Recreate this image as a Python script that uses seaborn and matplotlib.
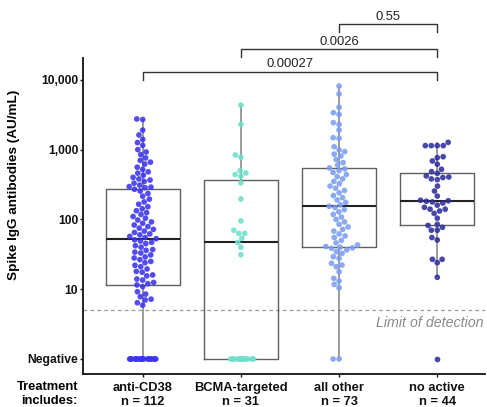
import numpy as np
import pandas as pd
import matplotlib
matplotlib.use("Agg")
import matplotlib.pyplot as plt
import seaborn as sns

# ---------------- data ----------------
categories = ["anti-CD38", "BCMA-targeted", "all other", "no active"]
colors = ["#3c33f2", "#6ee0cc", "#7c9ef0", "#2f2f9c"]

anti_cd38 = ([1] * 20 +
             [5.9, 6.4, 7.0, 7.2, 7.8, 8.5, 9.2, 10.9, 11.5,
              12, 12.5, 13.5, 14, 15.5, 16, 17.5, 18, 19.5, 21, 22, 24, 25, 26.5,
              28, 29, 31, 33, 34, 36, 37, 40, 42, 45, 47, 49, 51,
              53,
              55, 57, 60, 62, 65, 68, 72, 75, 79, 83, 88, 92, 98, 104, 110, 118,
              125, 133, 142, 152, 165, 178, 195, 215, 235, 255,
              270, 285,
              290, 295, 310, 330, 350, 366, 380, 400, 430, 460, 480, 520, 560, 620,
              660, 700, 760, 850, 925, 1000, 1150, 1260, 1400, 1620, 1900, 2700, 2750])

bcma = ([1] * 13 +
        [31.2, 39.8, 46.7, 53.6, 63, 63, 70, 95, 196, 335, 415, 440, 462, 500,
         776, 837, 2300, 4330])

all_other = ([1] * 2 +
             [10.5, 11.7, 13.1, 14.3, 17.8, 21, 22.2, 23.5, 27.7, 29.2, 32.6, 34.5,
              36.5, 38.5, 39, 40, 40.9,
              43, 46, 50, 55, 58, 62, 68, 72, 78, 85, 92, 100, 108, 118, 128, 138,
              148, 154,
              162, 175, 190, 205, 220, 240, 260, 280, 300, 325, 350, 380, 410, 440,
              470, 500, 530, 547,
              600, 650, 720, 810, 860, 935, 990, 1100, 1450, 1480, 1900, 2300, 2430,
              3200, 3380, 4040, 6270, 8150])

no_active = [1, 14.8, 24, 26.8, 26.8, 50.7, 55, 70, 70, 77, 82, 85, 104, 122, 132,
             140, 140, 149, 160, 172, 178, 182, 185, 188, 216, 255, 300, 372, 380,
             398, 405, 420, 457, 483, 522, 617, 687, 766, 790, 1140, 1140, 1140,
             1140, 1270]

group_values = [anti_cd38, bcma, all_other, no_active]

ytick_values = [1, 10, 100, 1000, 10000]
ytick_labels = ["Negative", "10", "100", "1,000", "10,000"]
limit_of_detection = 5

comparisons = [(0, 3), (1, 3), (2, 3)]
p_labels = ["0.00027", "0.0026", "0.55"]
bracket_top = [13060, 27350, 63000]
bracket_drop = [9930, 21000, 48000]

# ---------------- frame ----------------
df = pd.concat([pd.DataFrame({"group": c, "value": v})
                for c, v in zip(categories, group_values)], ignore_index=True)
palette = dict(zip(categories, colors))
pos = df[df["value"] > 1]
neg = df[df["value"] <= 1]
neg_counts = neg["group"].value_counts()
big_neg_groups = [c for c in categories if neg_counts.get(c, 0) > 3]
neg_big = neg[neg["group"].isin(big_neg_groups)]
neg_small = neg[~neg["group"].isin(big_neg_groups)]

# ---------------- figure ----------------
plt.rcParams["font.family"] = ["Liberation Sans", "DejaVu Sans"]
fig = plt.figure(figsize=(4.87, 4.07), dpi=100)
ax = fig.add_axes([83 / 487, 1 - 374 / 407, 402 / 487, 374 / 407])

sns.boxplot(data=df, x="group", y="value", order=categories, ax=ax,
            log_scale=True, fill=False, color="#606060", width=0.75,
            showcaps=False, showfliers=False, linewidth=1.0,
            medianprops=dict(color="#222222", linewidth=1.5),
            whiskerprops=dict(color="#8a8a8a", linewidth=1.2))

dot_size = 4.1
sns.swarmplot(data=pos, x="group", y="value", order=categories, hue="group",
              hue_order=categories, palette=palette, size=dot_size, alpha=0.88,
              linewidth=0, legend=False, ax=ax, log_scale=True, zorder=3)

np.random.seed(7)
sns.stripplot(data=neg_big, x="group", y="value", order=categories, hue="group",
              hue_order=categories, palette=palette, size=dot_size, alpha=0.88,
              jitter=0.14, linewidth=0, legend=False, ax=ax, log_scale=True,
              zorder=3)
sns.swarmplot(data=neg_small, x="group", y="value", order=categories, hue="group",
              hue_order=categories, palette=palette, size=dot_size, alpha=0.88,
              linewidth=0, legend=False, ax=ax, log_scale=True, zorder=3)

# limits & axes
ax.set_xlim(-0.608, 3.486)
ylo = 10 ** (-15 / 69.8)
yhi = 10 ** (359 / 69.8)
ax.set_ylim(ylo, yhi)
ax.spines["top"].set_visible(False)
ax.spines["right"].set_visible(False)
ax.spines["left"].set_bounds(ylo, 20500)
for s in ("left", "bottom"):
    ax.spines[s].set_linewidth(1.3)
    ax.spines[s].set_color("#111111")

ax.set_yticks(ytick_values)
ax.set_yticklabels(ytick_labels, fontsize=8.7, fontweight="bold")
ax.yaxis.set_minor_locator(matplotlib.ticker.NullLocator())
ax.tick_params(axis="y", length=2.5, width=1, pad=1, colors="#111111")
ax.tick_params(axis="x", length=2.5, width=1, pad=3, colors="#111111")

xlabels = [f"{c}\nn = {len(v)}" for c, v in zip(categories, group_values)]
ax.set_xticks(range(len(categories)))
ax.set_xticklabels(xlabels, fontsize=9.3, fontweight="bold", linespacing=1.25)
ax.set_xlabel("")
ax.set_ylabel("Spike IgG antibodies (AU/mL)", fontsize=9.7, fontweight="bold")
ax.yaxis.set_label_coords(-(83 - 20) / 402, (374 - 185) / 374)

# limit of detection
ax.axhline(limit_of_detection, color="#9a9a9a", linewidth=0.9,
           linestyle=(0, (3, 2.5)), zorder=1)
ax.text(3.47, 3.28, "Limit of detection", ha="right", va="center",
        fontsize=10.3, style="italic", color="#8a8a8a")

# significance brackets
for (i, j), lab, top, drop in zip(comparisons, p_labels, bracket_top, bracket_drop):
    ax.plot([i, i, j, j], [drop, top, top, drop], color="#333333", linewidth=1.0,
            clip_on=False)
    ax.text((i + j) / 2, top * 1.05, lab, ha="center", va="bottom", fontsize=9.4,
            color="#222222")

fig.text(78 / 487, 1 - 394 / 407, "Treatment\nincludes:", ha="right", va="center",
         multialignment="right", fontsize=9.3, fontweight="bold", linespacing=1.25)

fig.savefig("out.png", dpi=100)
